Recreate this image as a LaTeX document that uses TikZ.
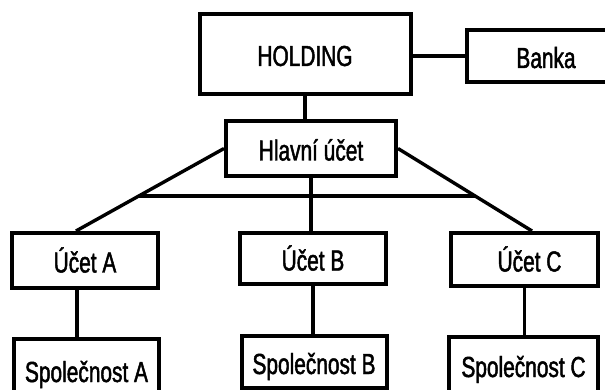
\documentclass[tikz,border=0pt]{standalone}
\usepackage{fontspec}
\setmainfont{Liberation Sans}[FakeStretch=0.72,FakeBold=1.6]
\usetikzlibrary{calc}
\tikzset{
  box/.style={draw, line width=4pt, inner sep=0pt, rectangle,
    font=\fontsize{29}{30}\selectfont, text height=24pt, text depth=0pt},
  link/.style={line width=3.4pt}
}
\begin{document}
\begin{tikzpicture}[x=1pt,y=-1pt]
\useasboundingbox (0,0) rectangle (605,390);
\clip (0,0) rectangle (605,390);
\node[box, minimum width=211pt, minimum height=80pt] (holding) at (305,54) {HOLDING};
\node[box, minimum width=158pt, minimum height=52pt] (banka) at (546,56) {Banka\hspace{24pt}};
\node[box, minimum width=170pt, minimum height=55pt] (hlavni) at (311,148.5) {Hlavní účet\hspace{16pt}};
\node[box, minimum width=146pt, minimum height=55pt] (ucetA) at (85,260.5) {Účet A\hspace{8pt}};
\node[box, minimum width=146pt, minimum height=51pt] (ucetB) at (313,258.5) {Účet B};
\node[box, minimum width=147pt, minimum height=53pt] (ucetC) at (524.5,259.5) {\hspace{10pt}Účet C};
\node[box, minimum width=145pt, minimum height=62pt] (spolA) at (86.5,370) {Společnost A};
\node[box, minimum width=145pt, minimum height=52pt] (spolB) at (314,362) {Společnost B};
\node[box, minimum width=149pt, minimum height=56pt] (spolC) at (523.5,365) {Společnost C};
% connectors
\draw[link] (banka.west) -- (banka.west -| holding.east);
\draw[link] (holding.south) -- (holding.south |- hlavni.north);
\coordinate (aTop) at ([xshift=-9pt]ucetA.north);
\coordinate (cTop) at ([xshift=7.5pt]ucetC.north);
\draw[link] (hlavni.west) -- (aTop);
\draw[link] (hlavni.east) -- (cTop);
\coordinate (hL) at ($(hlavni.west)!0.574!(aTop)$);
\coordinate (hR) at ($(hlavni.east)!0.574!(cTop)$);
\draw[link] (hL) -- (hR);
\draw[link] (hlavni.south) -- (hlavni.south |- ucetB.north);
\coordinate (aBot) at ([xshift=-8pt]ucetA.south);
\draw[link] (aBot) -- (aBot |- spolA.north);
\draw[link] (ucetB.south) -- (ucetB.south |- spolB.north);
\draw[link] (ucetC.south) -- (ucetC.south |- spolC.north);
\end{tikzpicture}
\end{document}
